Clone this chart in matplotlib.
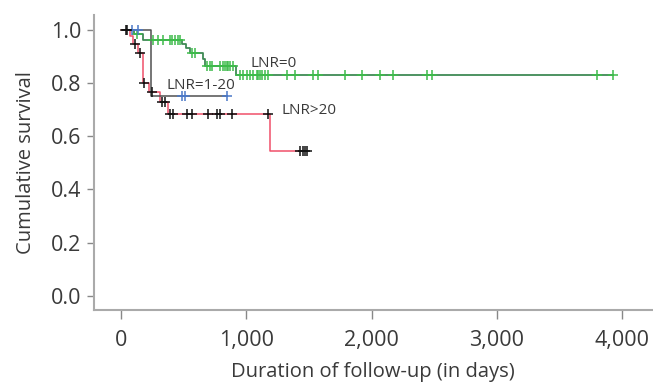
import matplotlib.pyplot as plt

plt.rcParams['font.family'] = ['Open Sans', 'DejaVu Sans']

# LNR=0 group
g_times = [0, 104, 175, 485, 515, 554, 653, 670, 918, 3927]
g_surv = [1.0, 0.985, 0.962, 0.947, 0.93, 0.913, 0.89, 0.865, 0.83, 0.83]
g_cens_t = [128, 256, 295, 335, 392, 408, 431, 455, 471, 567, 591,
            687, 711, 727, 790, 814, 830, 847, 855, 871, 895,
            950, 974, 1007, 1031, 1054, 1086, 1094, 1110, 1126, 1151, 1174,
            1326, 1390, 1534, 1573, 1789, 1925, 2068, 2172, 2444, 2484,
            3800, 3927]
g_cens_s = [0.985] + [0.962] * 8 + [0.913] * 2 + [0.865] * 10 + [0.83] * 23

# LNR=1-20 group
b_times = [0, 237, 847]
b_surv = [1.0, 0.75, 0.75]
b_cens_t = [88, 133, 487, 511, 847]
b_cens_s = [1.0, 1.0, 0.75, 0.75, 0.75]

# LNR>20 group
r_times = [0, 71, 93, 133, 175, 222, 311, 376, 1190, 1486]
r_surv = [1.0, 0.975, 0.947, 0.913, 0.80, 0.765, 0.73, 0.683, 0.545, 0.545]
r_cens_t = [39, 48, 112, 152, 182, 245, 327, 351,
            392, 411, 527, 567, 695, 767, 790, 887, 1174,
            1429, 1453, 1470, 1486]
r_cens_s = [1.0, 1.0, 0.947, 0.913, 0.80, 0.765, 0.73, 0.73] + [0.683] * 9 + [0.545] * 4

txt = '#3a3a3a'
fig = plt.figure(figsize=(6.53, 3.89), dpi=100)
ax = fig.add_axes([0.144, 0.203, 0.855, 0.758])

ax.step(g_times, g_surv, where='post', color='#3f8a55', lw=1.3)
ax.step(r_times, r_surv, where='post', color='#f0506a', lw=1.1)
ax.step(b_times, b_surv, where='post', color='#505050', lw=1.1)

ax.plot(g_cens_t, g_cens_s, '+', color='#3dbb4a', ms=7, mew=1.1)
ax.plot(b_cens_t, b_cens_s, '+', color='#4a78c8', ms=7, mew=1.1)
ax.plot(r_cens_t, r_cens_s, '+', color='#111111', ms=7, mew=1.1)

ax.text(1030, 0.875, 'LNR=0', fontsize=11, color=txt, va='center')
ax.text(359, 0.792, 'LNR=1-20', fontsize=11, color=txt, va='center')
ax.text(1278, 0.698, 'LNR>20', fontsize=11, color=txt, va='center')

ax.set_xlim(-216, 4241)
ax.set_ylim(-0.053, 1.055)
ax.set_xticks([0, 1000, 2000, 3000, 4000])
ax.set_xticklabels(['0', '1,000', '2,000', '3,000', '4,000'])
ax.set_yticks([0.0, 0.2, 0.4, 0.6, 0.8, 1.0])
ax.set_yticklabels(['0.0', '0.2', '0.4', '0.6', '0.8', '1.0'])

for s in ['top', 'right']:
    ax.spines[s].set_visible(False)
for s in ['left', 'bottom']:
    ax.spines[s].set_color('#aaaaaa')
    ax.spines[s].set_linewidth(1.5)
ax.tick_params(axis='both', colors='#888888', labelcolor=txt, labelsize=15.5, width=1)
ax.tick_params(axis='x', length=6.5, pad=8)
ax.tick_params(axis='y', length=5, pad=4)

ax.set_xlabel('Duration of follow-up (in days)', fontsize=14.5, color=txt, labelpad=8)
ax.set_ylabel('Cumulative survival', fontsize=14.5, color=txt, labelpad=11)

plt.savefig('out.png')
